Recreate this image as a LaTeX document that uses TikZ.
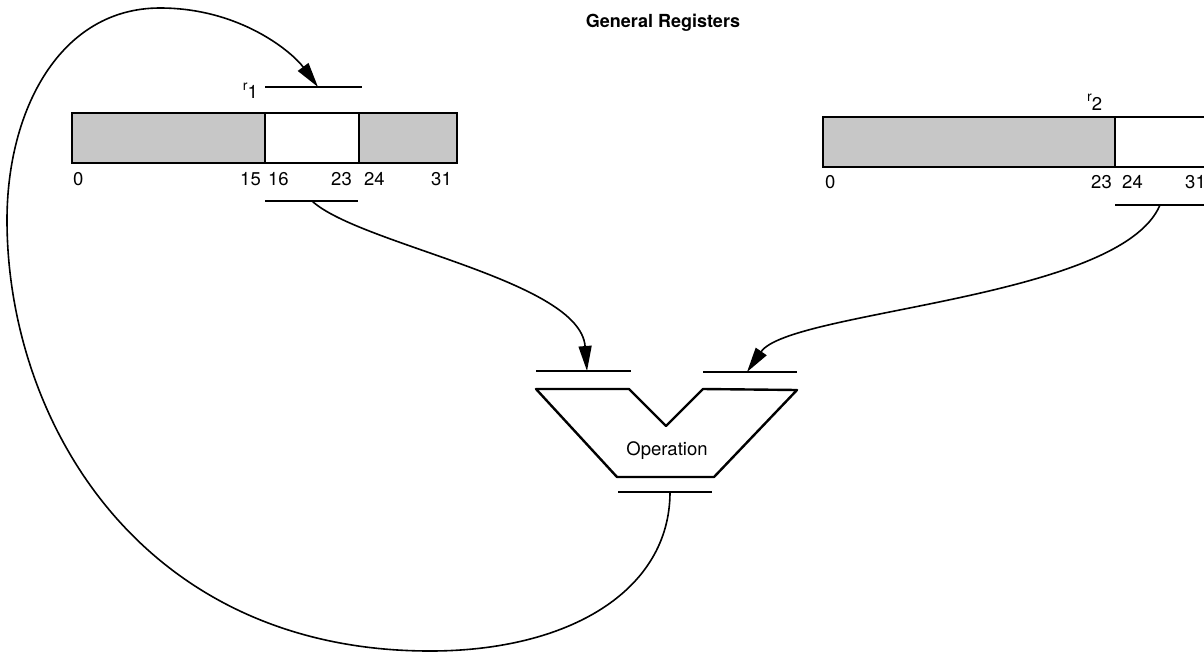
\documentclass[tikz,border=0pt]{standalone}
\usepackage{fontspec}
\setmainfont{TeX Gyre Heros}
\usetikzlibrary{arrows.meta}
\begin{document}
\begin{tikzpicture}[x=1pt,y=-1pt,
  field/.style={draw, line width=1.8pt, minimum height=50pt, inner sep=0pt,
                outer sep=0pt, anchor=north west},
  shaded/.style={fill=black!22},
  bar/.style={line width=1.8pt},
  flow/.style={line width=1.6pt, -{Triangle[length=25pt,width=13pt]}},
  bit/.style={font=\fontsize{18.5}{18.5}\selectfont, inner sep=0pt},
  label/.style={font=\fontsize{18.5}{18.5}\selectfont, inner sep=0pt},
  unit/.style={line width=2.4pt, line join=round}]
\useasboundingbox (0,0) rectangle (1204,651);

% title
\node[font=\bfseries\fontsize{18}{18}\selectfont, inner sep=0pt, anchor=base]
  (title) at (663,27) {General Registers};

% register r1: bits 0-15, 16-23, 24-31
\node[field,shaded,minimum width=193pt] (r1hi)  at (72,113)  {};
\node[field,minimum width=94pt]         (r1mid) at (265,113) {};
\node[field,shaded,minimum width=98pt]  (r1lo)  at (359,113) {};
\node[bit,anchor=base west] (b1a) at (73,185)  {0};
\node[bit,anchor=base east] (b1b) at (261,185) {15};
\node[bit,anchor=base west] (b1c) at (268,185) {16};
\node[bit,anchor=base east] (b1d) at (352,185) {23};
\node[bit,anchor=base west] (b1e) at (364,185) {24};
\node[bit,anchor=base east] (b1f) at (452,185) {31};
\node[label,anchor=base east] (r1name) at (258,98)
  {{\fontsize{14}{14}\selectfont\raisebox{8pt}{r}}1};

% register r2: bits 0-23, 24-31
\node[field,shaded,minimum width=292pt] (r2hi) at (823,117)  {};
\node[field,minimum width=93pt]         (r2lo) at (1115,117) {};
\node[bit,anchor=base west] (b2a) at (825,188)  {0};
\node[bit,anchor=base east] (b2b) at (1112,188) {23};
\node[bit,anchor=base west] (b2c) at (1122,188) {24};
\node[bit,anchor=base west] (b2d) at (1185,188) {31};
\node[label,anchor=base west] (r2name) at (1087,110)
  {{\fontsize{14}{14}\selectfont\raisebox{9pt}{r}}2};

% bus bars
\coordinate (r1inL) at (265,87);   \coordinate (r1inR) at (362,87);
\coordinate (r1in)  at (318,87);
\coordinate (r1outL) at (265,201); \coordinate (r1outR) at (358,201);
\coordinate (r1out)  at (312,201);
\coordinate (r2outL) at (1115,205); \coordinate (r2outR) at (1210,205);
\coordinate (r2out)  at (1160,205);
\coordinate (aL) at (536,371); \coordinate (aR) at (631,371);
\coordinate (ain) at (587,371);
\coordinate (bL) at (703,372); \coordinate (bR) at (797,372);
\coordinate (bin) at (747,372);
\coordinate (oL) at (618,492); \coordinate (oR) at (712,492);
\coordinate (oout) at (670,492);
\draw[bar] (r1inL) -- (r1inR);
\draw[bar] (r1outL) -- (r1outR);
\draw[bar] (r2outL) -- (r2outR);
\draw[bar] (aL) -- (aR);
\draw[bar] (bL) -- (bR);
\draw[bar] (oL) -- (oR);

% operation unit
\draw[unit] (536,389) -- (629,389) -- (666,426) -- (703,389) -- (797,390)
  -- (714,477) -- (617,477) -- cycle;
\node[label,anchor=base] (op) at (667,455) {Operation};

% data paths
\draw[flow] (r1out) .. controls (360,245) and (580,280) .. (ain);
\draw[flow] (r2out) .. controls (1120,300) and (790,310) .. (bin);
\draw[flow] (oout) .. controls (670,590) and (570,651) .. (430,651)
  .. controls (140,651) and (7,420) .. (7,220)
  .. controls (7,110) and (60,8) .. (160,8)
  .. controls (240,8) and (292,52) .. (r1in);
\end{tikzpicture}
\end{document}
